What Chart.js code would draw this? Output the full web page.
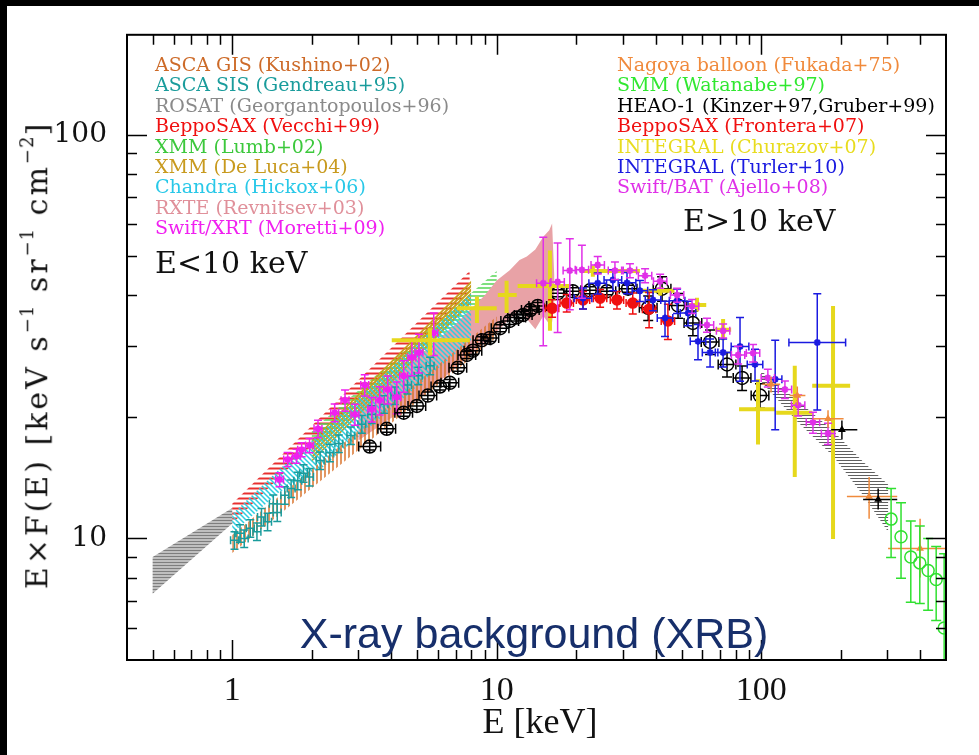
<!DOCTYPE html>
<html lang="en">
<head>
<meta charset="UTF-8" />
<title>X-ray background (XRB)</title>
<script src="https://cdn.jsdelivr.net/npm/chart.js@4"></script>
<style>
  html, body { margin: 0; padding: 0; background: #000; }
  body { width: 979px; height: 755px; position: relative; overflow: hidden; }
  #wrap { position: absolute; left: 7px; top: 6px; width: 972px; height: 749px; background: #fff; }
  .t { position: absolute; white-space: nowrap; }
  .leg { font: 19px 'DejaVu Serif', serif; line-height: 20.4px; }
  .big { font: 30px 'DejaVu Serif', serif; color: #111; }
  #ytitle { left: 35px; top: 355px; transform: translate(-50%, -50%) rotate(-90deg); font: 30px 'DejaVu Serif', serif; letter-spacing: 3px; color: #111; }
  #ytitle sup { font-size: 0.6em; vertical-align: 0.75em; letter-spacing: 1px; }
  #xtitle { left: 540px; top: 721px; transform: translate(-50%, -50%); font: 36px 'Liberation Serif', serif; color: #111; }
  #xrb { left: 534px; top: 633px; transform: translate(-50%, -50%); font: 43px 'Liberation Sans', Arial, sans-serif; color: #172f6b; }
</style>
</head>
<body>
<div id="wrap"><canvas id="c" width="972" height="749"></canvas></div>

<div class="t leg" style="left:155px; top:54px;">
  <div style="color:#cd6a28">ASCA GIS (Kushino+02)</div>
  <div style="color:#1a9c9c">ASCA SIS (Gendreau+95)</div>
  <div style="color:#8a8a8a">ROSAT (Georgantopoulos+96)</div>
  <div style="color:#f01010">BeppoSAX (Vecchi+99)</div>
  <div style="color:#3cc83c">XMM (Lumb+02)</div>
  <div style="color:#c89a1e">XMM (De Luca+04)</div>
  <div style="color:#28c8e8">Chandra (Hickox+06)</div>
  <div style="color:#e0909a">RXTE (Revnitsev+03)</div>
  <div style="color:#f020f0">Swift/XRT (Moretti+09)</div>
</div>
<div class="t leg" style="left:617px; top:54px;">
  <div style="color:#f08a3c">Nagoya balloon (Fukada+75)</div>
  <div style="color:#30e830">SMM (Watanabe+97)</div>
  <div style="color:#000">HEAO-1 (Kinzer+97,Gruber+99)</div>
  <div style="color:#f01010">BeppoSAX (Frontera+07)</div>
  <div style="color:#e8dc1e">INTEGRAL (Churazov+07)</div>
  <div style="color:#1a1ae0">INTEGRAL (Turler+10)</div>
  <div style="color:#e030e8">Swift/BAT (Ajello+08)</div>
</div>
<div class="t big" style="left:155px; top:245px;">E&lt;10 keV</div>
<div class="t big" style="left:683px; top:203px;">E&gt;10 keV</div>
<div class="t" id="ytitle">E×F(E) [keV s<sup>−1</sup> sr<sup>−1</sup> cm<sup>−2</sup>]</div>
<div class="t" id="xtitle">E [keV]</div>
<div class="t" id="xrb">X-ray background (XRB)</div>

<script>
// axes
const xRange = [0.4, 500];
const yRange = [5, 177];
const xTickLabels = [1, 10, 100];
const yTickLabels = [10, 100];

// bands (energy keV, lower / upper E*F(E))
const rosatE = [0.5, 1.0];
const rosatLo = [7.3, 10.9];
const rosatHi = [9.0, 11.9];

const vecE = [1.0, 7.9];
const vecLo = [10.9, 41];
const vecHi = [12.2, 46];

const lumbE = [2.0, 10.0];
const lumbLo = [16.5, 40];
const lumbHi = [18.5, 46];

const rxteE = [3, 5, 7, 9, 10, 11.2, 12.2, 13.0, 14.0, 15.0, 15.8, 16.2, 16.5];
const rxteLo = [17.5, 22, 26.5, 30.5, 32.5, 35, 36.8, 35, 33, 35.6, 34, 34.4, 38];
const rxteHi = [22, 28, 34, 40, 43.6, 46.2, 49, 50, 52, 55.9, 58, 60.3, 45];

const delE = [2.0, 8.0];
const delLo = [15.5, 38];
const delHi = [17.5, 43.5];

const hicE = [1.0, 1.5, 2.2, 4.0, 8.0];
const hicLo = [10.3, 13.0, 15.0, 21.0, 31.0];
const hicHi = [11.5, 14.8, 18.5, 26.5, 40.5];

const gisE = [1.0, 10.0];
const gisLo = [9.2, 31.5];
const gisHi = [10.2, 35.5];

const heE = [100, 137, 187, 243, 302];
const heLo = [24.5, 19.5, 16.0, 12.8, 10.4];
const heHi = [26.0, 22.0, 18.5, 15.5, 13.6];

// data points
const sisE = [1.02, 1.07, 1.11, 1.17, 1.24, 1.29, 1.36, 1.43, 1.48, 1.58, 1.67, 1.77, 1.86, 1.96, 2.15, 2.34, 2.53, 2.81, 3.09, 3.37, 3.75, 4.12, 4.6, 5.05, 5.6];
const sisV = [9.9, 10.3, 10.0, 10.6, 10.4, 11.3, 11.0, 12.2, 11.6, 12.8, 13.3, 13.9, 14.5, 14.2, 15.6, 16.3, 17.2, 18.0, 19.2, 20.3, 21.5, 22.6, 24.0, 25.3, 26.8];

const xrtE = [1.51, 1.62, 1.75, 1.83, 1.96, 2.11, 2.44, 2.67, 2.91, 3.17, 3.37, 3.61, 3.87, 4.19, 4.45, 4.78, 5.08, 5.78];
const xrtV = [14.0, 15.7, 16.0, 16.6, 17.0, 18.7, 20.5, 22.0, 20.3, 24.0, 20.9, 22.0, 23.4, 22.4, 25.3, 28.1, 28.9, 32.3];
const xrtDY = [.04, .04, .04, .04, .04, .05, .05, .06, .06, .06, .07, .08, .08, .09, .09, .10, .11, .12];

const heaoE = [3.31, 3.84, 4.45, 4.99, 5.49, 6.10, 6.65, 7.13, 7.71, 8.13, 8.79, 9.42, 10.3, 11.2, 11.9, 12.6, 13.4, 14.3, 17.0, 19.4, 22.5, 26.1, 31.4, 37.4, 42.2, 48.5, 55.2, 64.1, 74.3, 84.7, 99.0];
const heaoV = [16.9, 18.7, 20.5, 21.3, 22.6, 23.8, 24.3, 26.5, 28.5, 29.2, 31.0, 31.4, 33.2, 34.6, 35.3, 35.8, 36.8, 37.7, 40.5, 41.0, 41.2, 41.0, 41.6, 37.3, 41.6, 37.8, 34.2, 30.7, 27.0, 25.0, 22.6];

const frE = [16.2, 18.4, 21.2, 24.6, 28.5, 32.7, 37.7, 44.4];
const frV = [37.2, 38.3, 39.0, 39.4, 39.0, 38.3, 37.0, 34.6];
const frDY = [.05, .05, .05, .05, .05, .06, .10, .10];

const tuE = [21.2, 24.1, 27.5, 31.1, 34.8, 39.0, 43.3, 48.1, 52.9, 57.7, 64.1, 71.8, 83.2, 94.8, 113, 163];
const tuV = [39.4, 42.9, 43.7, 43.0, 41.1, 39.0, 35.2, 38.8, 36.2, 30.8, 28.9, 28.9, 29.9, 27.0, 24.8, 30.6];
const tuDX = [1.08, 1.08, 1.08, 1.08, 1.07, 1.07, 1.07, 1.07, 1.07, 1.07, 1.07, 1.07, 1.08, 1.07, 1.06, 1.28];
const tuDY = [.06, .06, .06, .06, .06, .06, .10, .07, .07, .10, .08, .08, .18, .09, .25, .32];

const batE = [15.0, 17.0, 18.9, 21.0, 24.1, 28.0, 31.9, 36.4, 41.5, 48.1, 54.8, 62.4, 71.8, 81.8, 93.2, 106, 123, 138, 157, 179];
const batV = [42.9, 43.2, 46.1, 46.3, 47.6, 46.1, 46.1, 44.8, 43.4, 40.1, 37.6, 33.8, 32.7, 28.5, 28.8, 25.0, 23.4, 21.4, 19.4, 18.2];
const batDY = [.30, .25, .20, .15, .05, .05, .04, .04, .04, .04, .04, .04, .04, .05, .05, .05, .05, .06, .06, .06];

const chE = [5.59, 8.42, 10.9, 15.9, 23.1, 41.5, 57.2, 71.8, 97.3, 134, 187];
const chV = [31.0, 37.2, 40.1, 42.2, 46.0, 41.1, 37.9, 32.9, 20.9, 20.5, 23.9];
const chXlo = [4.01, 7.07, 10.1, 12.0, 21.2, 35, 52.5, 67, 82.5, 114, 156];
const chXhi = [7.92, 10.0, 11.9, 18.9, 34.8, 47, 62, 77, 113, 156, 217];
const chYlo = [28.4, 34.2, 36.2, 32.7, 44.5, 40, 36.5, 31, 17.1, 14.2, 9.97];
const chYhi = [33.2, 39.8, 43.5, 51.7, 47.5, 42, 39.5, 35, 24.8, 26.8, 37.7];

const naE = [109, 137, 179, 256, 399];
const naV = [24.1, 22.6, 19.8, 12.7, 9.45];
const naXlo = [101, 128, 157, 211, 302];
const naXhi = [118, 147, 205, 327, 505];
const naYlo = [23.0, 21.4, 18.8, 11.2, 8.0];
const naYhi = [25.2, 23.8, 20.8, 14.2, 11.2];

const kiE = [202, 277];
const kiV = [18.6, 12.5];
const kiXlo = [184, 243];
const kiXhi = [231, 327];
const kiYlo = [17.6, 11.8];
const kiYhi = [19.6, 13.3];

const smE = [310, 338, 368, 398, 428, 459, 492];
const smV = [11.17, 10.1, 9.0, 8.7, 8.33, 7.91, 6.0];
const smYlo = [8.97, 7.97, 6.95, 6.9, 6.64, 6.26, 5.0];
const smYhi = [13.3, 12.26, 11.05, 10.74, 10.0, 9.55, 9.17];

// helpers
function hatch(color, dir, gap, lw) {
  const c = document.createElement('canvas');
  c.width = gap; c.height = gap;
  const g = c.getContext('2d');
  g.strokeStyle = color; g.lineWidth = lw;
  g.beginPath();
  if (dir === 'h') { g.moveTo(0, gap / 2); g.lineTo(gap, gap / 2); }
  else if (dir === 'v') { g.moveTo(gap / 2, 0); g.lineTo(gap / 2, gap); }
  else if (dir === '/') {
    g.moveTo(-1, gap + 1); g.lineTo(gap + 1, -1);
    g.moveTo(-1, 1); g.lineTo(1, -1);
    g.moveTo(gap - 1, gap + 1); g.lineTo(gap + 1, gap - 1);
  } else {
    g.moveTo(-1, -1); g.lineTo(gap + 1, gap + 1);
    g.moveTo(gap - 1, -1); g.lineTo(gap + 1, 1);
    g.moveTo(-1, gap - 1); g.lineTo(1, gap + 1);
  }
  g.stroke();
  return g.createPattern(c, 'repeat');
}

function band(E, lo, hi, bg, order) {
  const pts = E.map((e, i) => ({x: e, y: hi[i]}));
  for (let i = E.length - 1; i >= 0; i--) pts.push({x: E[i], y: lo[i]});
  return {type: 'line', data: pts, backgroundColor: bg, borderWidth: 0, pointRadius: 0, fill: 'shape', order};
}

const pick = (a, i) => Array.isArray(a) ? a[i] : a;
function relErr(E, V, fx, fy) {
  return E.map((e, i) => [e / pick(fx, i), e * pick(fx, i), V[i] * (1 - pick(fy, i)), V[i] * (1 + pick(fy, i))]);
}
function absErr(xlo, xhi, ylo, yhi) {
  return xlo.map((v, i) => [v, xhi[i], ylo[i], yhi[i]]);
}
const pts = (E, V) => E.map((e, i) => ({x: e, y: V[i]}));

function points(E, V, err, style) {
  return Object.assign({
    data: pts(E, V), err, pointRadius: 0, pointBorderWidth: 1.5,
    pointBackgroundColor: style.errColor, pointBorderColor: style.errColor
  }, style);
}

const errorBars = {
  id: 'errorBars',
  beforeDatasetDraw(chart, args) {
    const ds = chart.data.datasets[args.index];
    if (!ds.err) return;
    const {ctx, chartArea: a, scales: {x, y}} = chart;
    const cap = ds.errCap || 0;
    ctx.save();
    ctx.beginPath();
    ctx.rect(a.left, a.top, a.right - a.left, a.bottom - a.top);
    ctx.clip();
    ctx.strokeStyle = ds.errColor;
    ctx.lineWidth = ds.errWidth || 1.5;
    ctx.beginPath();
    ds.err.forEach((b, i) => {
      const px = x.getPixelForValue(ds.data[i].x), py = y.getPixelForValue(ds.data[i].y);
      const x0 = x.getPixelForValue(b[0]), x1 = x.getPixelForValue(b[1]);
      const y0 = y.getPixelForValue(b[2]), y1 = y.getPixelForValue(b[3]);
      ctx.moveTo(x0, py); ctx.lineTo(x1, py);
      ctx.moveTo(px, y0); ctx.lineTo(px, y1);
      if (cap) {
        ctx.moveTo(x0, py - cap); ctx.lineTo(x0, py + cap);
        ctx.moveTo(x1, py - cap); ctx.lineTo(x1, py + cap);
        ctx.moveTo(px - cap, y0); ctx.lineTo(px + cap, y0);
        ctx.moveTo(px - cap, y1); ctx.lineTo(px + cap, y1);
      }
      if (ds.errCross) {
        ctx.moveTo(px, py - ds.errCross); ctx.lineTo(px, py + ds.errCross);
        ctx.moveTo(px - ds.errCross, py); ctx.lineTo(px + ds.errCross, py);
      }
    });
    ctx.stroke();
    ctx.restore();
  }
};

function logTicks(min, max) {
  const out = [];
  for (let p = Math.floor(Math.log10(min)); p <= Math.ceil(Math.log10(max)); p++) {
    for (let m = 1; m < 10; m++) {
      const v = m * Math.pow(10, p);
      if (v > min * 1.0001 && v < max * 0.9999) out.push([v, m === 1]);
    }
  }
  return out;
}

const frame = {
  id: 'frame',
  afterDatasetsDraw(chart) {
    const {ctx, chartArea: a, scales: {x, y}} = chart;
    ctx.save();
    ctx.strokeStyle = '#000';
    ctx.lineWidth = 2;
    ctx.strokeRect(a.left, a.top, a.right - a.left, a.bottom - a.top);
    ctx.lineWidth = 1.5;
    ctx.beginPath();
    logTicks(xRange[0], xRange[1]).forEach(([v, major]) => {
      const p = Math.round(x.getPixelForValue(v)) + 0.5, len = major ? 20 : 10;
      ctx.moveTo(p, a.bottom); ctx.lineTo(p, a.bottom - len);
      ctx.moveTo(p, a.top); ctx.lineTo(p, a.top + len);
    });
    logTicks(yRange[0], yRange[1]).forEach(([v, major]) => {
      const p = Math.round(y.getPixelForValue(v)) + 0.5, len = major ? 20 : 10;
      ctx.moveTo(a.left, p); ctx.lineTo(a.left + len, p);
      ctx.moveTo(a.right, p); ctx.lineTo(a.right - len, p);
    });
    ctx.stroke();
    ctx.restore();
  }
};

const datasets = [
  // bands (higher order = drawn further below)
  band(rosatE, rosatLo, rosatHi, hatch('#7e7e7e', 'h', 3, 2), 40),
  band(vecE, vecLo, vecHi, hatch('#e83030', 'h', 5, 2), 39),
  band(lumbE, lumbLo, lumbHi, hatch('#55d655', 'h', 4, 1.5), 38),
  band(rxteE, rxteLo, rxteHi, '#e8a2a6', 37),
  band(delE, delLo, delHi, hatch('#c8a018', '/', 4, 2), 36),
  band(hicE, hicLo, hicHi, hatch('#2ccde0', '\\', 5, 1.5), 35),
  band(gisE, gisLo, gisHi, hatch('#d8732c', 'v', 4, 1.5), 34),
  band(heE, heLo, heHi, hatch('#606060', 'h', 3, 1), 33),
  // points
  points(sisE, sisV, relErr(sisE, sisV, 1.035, 0.05), {errColor: '#1a9c9c', errCap: 4, order: 20}),
  points(xrtE, xrtV, relErr(xrtE, xrtV, 1.035, xrtDY), {errColor: '#f020f0', errCap: 4, pointRadius: 3.5, pointStyle: 'star', pointBorderWidth: 2, order: 19}),
  points(heaoE, heaoV, relErr(heaoE, heaoV, heaoE.map((e, i) => i === 0 ? 1.1 : 1.08), heaoE.map(e => e > 35 ? 0.07 : 0.02)),
    {errColor: '#000', errCap: 5, errCross: 6.5, pointRadius: 6.5, pointStyle: 'circle', pointBackgroundColor: 'rgba(0,0,0,0)', order: 18}),
  points(chE, chV, absErr(chXlo, chXhi, chYlo, chYhi), {errColor: '#e6d81c', errWidth: 4, order: 17}),
  points(frE, frV, relErr(frE, frV, 1.06, frDY), {errColor: '#f01010', errCap: 4, pointRadius: 5, pointStyle: 'circle', order: 16}),
  points(tuE, tuV, relErr(tuE, tuV, tuDX, tuDY), {errColor: '#1a1ae0', errCap: 4, pointRadius: 3.5, pointStyle: 'star', pointBorderWidth: 2, order: 15}),
  points(batE, batV, relErr(batE, batV, 1.06, batDY), {errColor: '#e030e8', errCap: 4, pointRadius: 3.5, pointStyle: 'star', pointBorderWidth: 2, order: 14}),
  points(naE, naV, absErr(naXlo, naXhi, naYlo, naYhi), {errColor: '#f08a3c', pointRadius: 3, pointStyle: 'triangle', order: 13}),
  points(kiE, kiV, absErr(kiXlo, kiXhi, kiYlo, kiYhi), {errColor: '#000', pointRadius: 3, pointStyle: 'triangle', order: 12}),
  points(smE, smV, absErr(smE, smE, smYlo, smYhi), {errColor: '#30e030', errCap: 5, pointRadius: 6, pointStyle: 'circle', pointBackgroundColor: 'rgba(0,0,0,0)', order: 11})
];

new Chart(document.getElementById('c'), {
  type: 'scatter',
  data: {datasets},
  options: {
    responsive: false,
    animation: false,
    devicePixelRatio: 1,
    layout: {padding: {top: 24, right: 33, left: 0, bottom: 0}},
    plugins: {legend: {display: false}, tooltip: {enabled: false}},
    scales: {
      x: {
        type: 'logarithmic', min: xRange[0], max: xRange[1],
        grid: {display: false}, border: {display: false},
        afterFit: s => { s.height = 95; },
        afterBuildTicks: s => { s.ticks = xTickLabels.map(v => ({value: v})); },
        ticks: {callback: v => String(v), font: {family: 'Liberation Serif', size: 34}, color: '#111', padding: 3, maxRotation: 0, autoSkip: false}
      },
      y: {
        type: 'logarithmic', min: yRange[0], max: yRange[1],
        grid: {display: false}, border: {display: false},
        afterFit: s => { s.width = 120; },
        afterBuildTicks: s => { s.ticks = yTickLabels.map(v => ({value: v})); },
        ticks: {callback: v => String(v), font: {family: 'DejaVu Serif', size: 28}, color: '#111', padding: 12, autoSkip: false}
      }
    }
  },
  plugins: [errorBars, frame]
});
</script>
</body>
</html>
